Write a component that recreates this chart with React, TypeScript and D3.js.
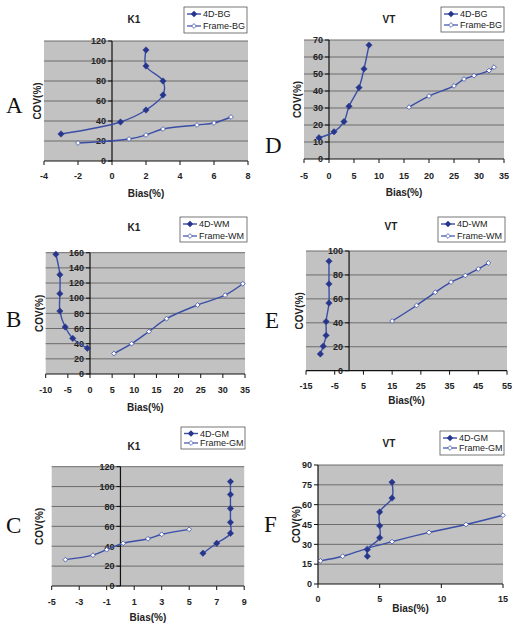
import React from 'react';
import * as d3 from 'd3';

type Pt = [number, number];

// ---- Data ----
// A: K1, background
const k1Bg4D: Pt[] = [[2, 111], [2, 95], [3, 80], [3, 66], [2, 51], [0.5, 39], [-3, 27]];
const k1BgFrame: Pt[] = [[-2, 18], [1, 22], [2, 26], [3, 32], [5, 36], [6, 38], [7, 44]];
// D: VT, background
const vtBg4D: Pt[] = [[-2, 12.5], [1, 16], [3, 22], [4, 31], [6, 42], [7, 53], [8, 67]];
const vtBgFrame: Pt[] = [[16, 30.5], [20, 37], [25, 43], [27, 47], [29, 49], [32, 52], [33, 54]];
// B: K1, white matter
const k1Wm4D: Pt[] = [[-7.7, 158], [-6.8, 131], [-6.8, 106], [-6.8, 83], [-5.6, 62], [-3.9, 47], [-0.6, 34]];
const k1WmFrame: Pt[] = [[5.4, 27], [9.4, 40], [13.3, 56], [17.3, 73], [24.3, 91], [30.5, 104], [34.5, 119]];
// E: VT, white matter
const vtWm4D: Pt[] = [[-10, 14], [-9, 20.5], [-8, 29.5], [-8, 41], [-7, 56.5], [-7, 72.5], [-7, 91.5]];
const vtWmFrame: Pt[] = [[15, 41.5], [23.5, 54.5], [30, 65.5], [35.5, 74], [40.5, 79.5], [45, 85], [48.5, 90]];
// C: K1, gray matter
const k1Gm4D: Pt[] = [[6, 33], [7, 43], [8, 53], [8, 64], [8, 78], [8, 92], [8, 105]];
const k1GmFrame: Pt[] = [[-4, 26.5], [-2, 31], [-1, 36.5], [0.2, 43], [2, 47.5], [3, 52], [5, 57]];
// F: VT, gray matter
const vtGm4D: Pt[] = [[4, 21], [4, 26], [5, 35], [5, 44], [5, 54.5], [6, 65], [6, 77]];
const vtGmFrame: Pt[] = [[0.2, 17.5], [2, 21], [4, 27], [6, 32], [9, 39], [12, 45], [15, 52]];

// Tick labels
const xTicksA = [-4, -2, 0, 2, 4, 6, 8];
const yTicksA = [0, 20, 40, 60, 80, 100, 120];
const xTicksD = [-5, 0, 5, 10, 15, 20, 25, 30, 35];
const yTicksD = [0, 10, 20, 30, 40, 50, 60, 70];
const xTicksB = [-10, -5, 0, 5, 10, 15, 20, 25, 30, 35];
const yTicksB = [0, 20, 40, 60, 80, 100, 120, 140, 160];
const xTicksE = [-15, -5, 5, 15, 25, 35, 45, 55];
const yTicksE = [0, 20, 40, 60, 80, 100];
const xTicksC = [-5, -3, -1, 1, 3, 5, 7, 9];
const yTicksC = [0, 20, 40, 60, 80, 100, 120];
const xTicksF = [0, 5, 10, 15];
const yTicksF = [0, 15, 30, 45, 60, 75, 90];

const titles = ['K1', 'VT'];
const names4D = ['4D-BG', '4D-WM', '4D-GM'];
const namesFrame = ['Frame-BG', 'Frame-WM', 'Frame-GM'];
const letters = ['A', 'B', 'C', 'D', 'E', 'F'];

// ---- Styles ----
const LINE = '#3a4ea8';
const MARK = '#27368c';
const PLOT_BG = '#c2c2c2';
const GRID = '#6c6c6c';
const FONT = 'Liberation Sans, Arial, sans-serif';

interface Cfg {
  letter: string; title: string; xTicks: number[]; yTicks: number[];
  s4D: Pt[]; sFrame: Pt[]; n4D: string; nFrame: string;
  plot: { l: number; t: number; r: number; b: number };
  legend: { x: number; y: number; w: number; h: number; d1: number; d2: number };
  titlePos: Pt; letterPos: Pt; xTitleY: number; xLabDy: number; yTitleX: number;
}

const panels: Cfg[] = [
  { letter: letters[0], title: titles[0], xTicks: xTicksA, yTicks: yTicksA, s4D: k1Bg4D, sFrame: k1BgFrame, n4D: names4D[0], nFrame: namesFrame[0],
    plot: { l: 44, t: 41, r: 248, b: 161 }, legend: { x: 184, y: 7, w: 63, h: 26, d1: 7, d2: 19 }, titlePos: [134, 19], letterPos: [6, 113], xTitleY: 193, xLabDy: 14, yTitleX: 37 },
  { letter: letters[3], title: titles[1], xTicks: xTicksD, yTicks: yTicksD, s4D: vtBg4D, sFrame: vtBgFrame, n4D: names4D[0], nFrame: namesFrame[0],
    plot: { l: 304, t: 40, r: 504, b: 159 }, legend: { x: 441, y: 7, w: 63, h: 25, d1: 7, d2: 18 }, titlePos: [389, 19], letterPos: [265, 153], xTitleY: 192, xLabDy: 16, yTitleX: 297 },
  { letter: letters[1], title: titles[0], xTicks: xTicksB, yTicks: yTicksB, s4D: k1Wm4D, sFrame: k1WmFrame, n4D: names4D[1], nFrame: namesFrame[1],
    plot: { l: 45.7, t: 252.7, r: 245, b: 374 }, legend: { x: 180, y: 217, w: 67, h: 25, d1: 7, d2: 19 }, titlePos: [134, 227], letterPos: [6, 327], xTitleY: 407, xLabDy: 15, yTitleX: 39 },
  { letter: letters[4], title: titles[1], xTicks: xTicksE, yTicks: yTicksE, s4D: vtWm4D, sFrame: vtWmFrame, n4D: names4D[1], nFrame: namesFrame[1],
    plot: { l: 306, t: 251, r: 507, b: 370.7 }, legend: { x: 438, y: 217, w: 67, h: 25, d1: 7, d2: 19 }, titlePos: [391, 226], letterPos: [265, 328], xTitleY: 400, xLabDy: 15, yTitleX: 299 },
  { letter: letters[2], title: titles[0], xTicks: xTicksC, yTicks: yTicksC, s4D: k1Gm4D, sFrame: k1GmFrame, n4D: names4D[2], nFrame: namesFrame[2],
    plot: { l: 51.7, t: 466.7, r: 244.2, b: 586 }, legend: { x: 181, y: 427, w: 64, h: 22, d1: 6.5, d2: 16 }, titlePos: [134, 446], letterPos: [6, 533], xTitleY: 617, xLabDy: 15, yTitleX: 39 },
  { letter: letters[5], title: titles[1], xTicks: xTicksF, yTicks: yTicksF, s4D: vtGm4D, sFrame: vtGmFrame, n4D: names4D[2], nFrame: namesFrame[2],
    plot: { l: 318, t: 465, r: 503, b: 584 }, legend: { x: 440, y: 431, w: 64, h: 24, d1: 7, d2: 17 }, titlePos: [389, 443], letterPos: [264, 532], xTitleY: 608, xLabDy: 14, yTitleX: 296 },
];

const diamondPath = (r: number) => {
  const p = d3.path();
  p.moveTo(0, -r); p.lineTo(r, 0); p.lineTo(0, r); p.lineTo(-r, 0); p.closePath();
  return p.toString();
};
const diamond4D = diamondPath(3.2);
const diamondFr = diamondPath(2.4);

function Panel({ c }: { c: Cfg }) {
  const { l, t, r, b } = c.plot;
  const x = d3.scaleLinear().domain([c.xTicks[0], c.xTicks[c.xTicks.length - 1]]).range([l, r]);
  const y = d3.scaleLinear().domain([c.yTicks[0], c.yTicks[c.yTicks.length - 1]]).range([b, t]);
  const line = d3.line<Pt>().x(d => x(d[0])).y(d => y(d[1])).curve(d3.curveCatmullRom.alpha(0.5));
  const x0 = c.xTicks[0] < 0 ? 0 : c.xTicks[0];
  const ax = x(x0);
  const ay = y(0);
  const lg = c.legend;
  return (
    <g>
      <rect x={l} y={t} width={r - l} height={b - t} fill={PLOT_BG} />
      {c.yTicks.filter(v => v !== 0).map(v => (
        <line key={'g' + v} x1={l} x2={r} y1={y(v)} y2={y(v)} stroke={GRID} strokeWidth={1} />
      ))}
      {/* axes */}
      <line x1={l} x2={r} y1={ay} y2={ay} stroke="#111" strokeWidth={1.2} />
      <line x1={ax} x2={ax} y1={t} y2={b} stroke="#111" strokeWidth={1.2} />
      {c.xTicks.map(v => (
        <g key={'xt' + v}>
          <line x1={x(v)} x2={x(v)} y1={ay} y2={ay + 4} stroke="#111" strokeWidth={1} />
          <text x={x(v)} y={ay + c.xLabDy + 3.5} textAnchor="middle" fontSize={9} fontWeight="bold" fontFamily={FONT} fill="#222">{v}</text>
        </g>
      ))}
      {c.yTicks.map(v => (
        <g key={'yt' + v}>
          <line x1={ax - 4} x2={ax} y1={y(v)} y2={y(v)} stroke="#111" strokeWidth={1} />
          <text x={ax - 6} y={y(v) + 3.3} textAnchor="end" fontSize={9} fontWeight="bold" fontFamily={FONT} fill="#222">{v}</text>
        </g>
      ))}
      {/* series */}
      <path d={line(c.sFrame) || ''} fill="none" stroke={LINE} strokeWidth={1.4} />
      <path d={line(c.s4D) || ''} fill="none" stroke={LINE} strokeWidth={1.4} />
      {c.sFrame.map((d, i) => (
        <path key={'f' + i} d={diamondFr} transform={`translate(${x(d[0])},${y(d[1])})`} fill="#fff" stroke={LINE} strokeWidth={0.8} />
      ))}
      {c.s4D.map((d, i) => (
        <path key={'d' + i} d={diamond4D} transform={`translate(${x(d[0])},${y(d[1])})`} fill={MARK} stroke={MARK} strokeWidth={0.5} />
      ))}
      {/* titles */}
      <text x={c.titlePos[0]} y={c.titlePos[1] + 3.5} textAnchor="middle" fontSize={10} fontWeight="bold" fontFamily={FONT} fill="#222">{c.title}</text>
      <text x={(l + r) / 2} y={c.xTitleY + 3.5} textAnchor="middle" fontSize={10} fontWeight="bold" fontFamily={FONT} fill="#222">Bias(%)</text>
      <text transform={`translate(${c.yTitleX + 3.5},${(t + b) / 2}) rotate(-90)`} textAnchor="middle" fontSize={10} fontWeight="bold" fontFamily={FONT} fill="#222">COV(%)</text>
      <text x={c.letterPos[0]} y={c.letterPos[1]} fontSize={23} fontFamily="Liberation Serif, Times New Roman, serif" fill="#111">{c.letter}</text>
      {/* legend */}
      <rect x={lg.x} y={lg.y} width={lg.w} height={lg.h} fill="#fff" stroke="#555" strokeWidth={0.8} />
      <line x1={lg.x + 3} x2={lg.x + 17} y1={lg.y + lg.d1} y2={lg.y + lg.d1} stroke={LINE} strokeWidth={1.4} />
      <path d={diamond4D} transform={`translate(${lg.x + 10},${lg.y + lg.d1})`} fill={MARK} />
      <text x={lg.x + 19} y={lg.y + lg.d1 + 3.2} fontSize={9} fontFamily={FONT} fill="#222">{c.n4D}</text>
      <line x1={lg.x + 3} x2={lg.x + 17} y1={lg.y + lg.d2} y2={lg.y + lg.d2} stroke={LINE} strokeWidth={1.2} />
      <path d={diamondFr} transform={`translate(${lg.x + 10},${lg.y + lg.d2})`} fill="#fff" stroke={LINE} strokeWidth={0.8} />
      <text x={lg.x + 19} y={lg.y + lg.d2 + 3.2} fontSize={9} fontFamily={FONT} fill="#222">{c.nFrame}</text>
    </g>
  );
}

export default function App() {
  return (
    <svg width={515} height={625} style={{ position: 'absolute', left: 0, top: 0, background: '#fff' }}>
      <rect x={0} y={0} width={515} height={625} fill="#fff" />
      {panels.map(p => <Panel key={p.letter} c={p} />)}
    </svg>
  );
}
